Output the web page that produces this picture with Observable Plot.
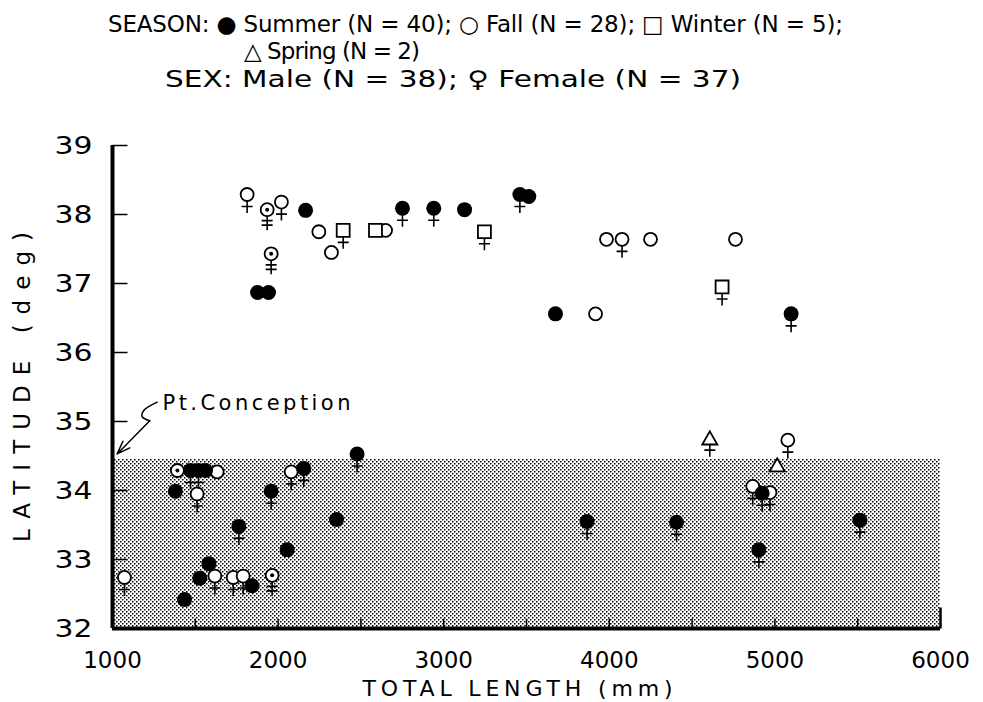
<!DOCTYPE html>
<html><head><meta charset="utf-8">
<script src="https://cdn.jsdelivr.net/npm/d3@7"></script>
<script src="https://cdn.jsdelivr.net/npm/@observablehq/plot@0.6"></script>
<style>
body{margin:0;background:#fff;}
#wrap{width:983px;}
#wrap svg{display:block;}
svg text{font-family:"DejaVu Sans",sans-serif;}
</style></head><body>
<svg width="0" height="0" style="position:absolute">
 <defs>
  <pattern id="stipple" width="4" height="4" patternUnits="userSpaceOnUse">
   <rect width="4" height="4" fill="#fff"/>
   <rect x="0" y="0" width="1.5" height="1.5" fill="#000"/>
   <rect x="2" y="2" width="1.5" height="1.5" fill="#000"/>
  </pattern>
 </defs>
</svg>
<div id="wrap"></div>
<script>
// ---------- data ----------
const seasons = ["Summer", "Fall", "Winter", "Spring"];
const seasonSymbols = ["●", "○", "□", "△"];
const seasonCounts = [40, 28, 5, 2];
const sexes = ["Male", "Female"];
const sexCounts = [38, 37];

const xTicks = [1000, 2000, 3000, 4000, 5000, 6000];
const xMinorTicks = [1500, 2000, 2500, 3000, 3500, 4000, 4500, 5000, 5500];
const yTicks = [32, 33, 34, 35, 36, 37, 38, 39];
const conceptionLat = 34.45;

const summerLength = [2166, 2751, 2940, 3126, 3460, 3514, 3675, 5098, 1876, 1942, 1471, 1519, 1562, 1380, 2155, 2477, 1958, 2353, 1763, 2055, 1582, 1527, 1843, 1435, 3866, 4406, 5513, 4923, 4903];
const summerLat =    [38.06, 38.09, 38.09, 38.07, 38.29, 38.26, 36.56, 36.56, 36.87, 36.87, 34.29, 34.29, 34.29, 33.99, 34.32, 34.53, 33.99, 33.58, 33.48, 33.14, 32.94, 32.73, 32.62, 32.42, 33.55, 33.54, 33.57, 33.96, 33.14];
const summerSex = "MFFMFMMFMMFFMMFFFMFMMMMMFFFFF";

const fallLength = [1813, 1934, 2020, 2246, 2322, 1958, 2649, 3983, 4077, 4249, 4762, 3917, 1392, 1632, 1511, 2079, 1618, 1729, 1789, 1964, 1072, 5078, 4866, 4970];
const fallLat =    [38.29, 38.07, 38.18, 37.75, 37.45, 37.43, 37.77, 37.64, 37.64, 37.64, 37.64, 36.56, 34.29, 34.27, 33.95, 34.27, 32.76, 32.74, 32.76, 32.77, 32.74, 34.73, 34.06, 33.97];
const fallSex = "FFFMMFMMFMMMMMFFFFFFFFFF";
const fallDotted = [0, 1, 0, 0, 0, 1, 0, 0, 0, 0, 0, 0, 1, 0, 0, 0, 0, 0, 0, 1, 0, 0, 0, 0];

const winterLength = [2393, 2588, 3246, 4681];
const winterLat = [37.77, 37.77, 37.75, 36.95];
const winterSex = "FMFF";

const springLength = [4607, 5014];
const springLat = [34.73, 34.34];
const springSex = "FM";

const ptLabel = "Pt.Conception";
const ptLabelPos = [1302, 35.17];
const squiggleLength = [1270, 1189, 1179, 1225];
const squiggleLat = [35.28, 35.16, 35.07, 35.01];
const arrowTip = [1028, 34.53];

// ---------- build tables ----------
function rows(len, lat, sex, season, dotted) {
  return len.map((x, i) => ({x, y: lat[i], sex: sex[i], season, dotted: dotted ? !!dotted[i] : false}));
}
const summer = rows(summerLength, summerLat, summerSex, "Summer");
const fall = rows(fallLength, fallLat, fallSex, "Fall", fallDotted);
const winter = rows(winterLength, winterLat, winterSex, "Winter");
const spring = rows(springLength, springLat, springSex, "Spring");
const all = [...fall, ...winter, ...spring, ...summer];

// ---------- symbols ----------
const venus = {draw(c, s){ const r = Math.sqrt(s/Math.PI); c.moveTo(0, r); c.lineTo(0, r+12); c.moveTo(-5.5, r+5.5); c.lineTo(5.5, r+5.5); }};
const venus2 = {draw(c, s){ const r = Math.sqrt(s/Math.PI); c.moveTo(0, r); c.lineTo(0, r+14); c.moveTo(-5.5, r+4.5); c.lineTo(5.5, r+4.5); c.moveTo(-5.5, r+9); c.lineTo(5.5, r+9); }};
const tickUp = {draw(c){ c.moveTo(0, 0); c.lineTo(0, -10); }};
const tickUpLong = {draw(c){ c.moveTo(0, 0); c.lineTo(0, -21); }};
const tickRight = {draw(c){ c.moveTo(0, 0); c.lineTo(15, 0); }};

const crossR = d => d.season === "Spring" ? 4.5 : 6.5;

// ---------- header ----------
const header = d3.create("svg").attr("width", 983).attr("height", 105);
const line1 = "SEASON: " + [0,1,2].map(i => `${seasonSymbols[i]} ${seasons[i]} (N = ${seasonCounts[i]});`).join(" ");
const line2 = `${seasonSymbols[3]} ${seasons[3]} (N = ${seasonCounts[3]})`;
const line3 = `SEX: ${sexes[0]} (N = ${sexCounts[0]}); ♀ ${sexes[1]} (N = ${sexCounts[1]})`;
[[line1, 108, 32, 735, "spacing"], [line2, 244, 59, 176, "spacing"], [line3, 165, 87, 576, "spacingAndGlyphs"]].forEach(([t, x, y, len, adj]) => {
  header.append("text").attr("x", x).attr("y", y).attr("font-size", 23)
    .attr("textLength", len).attr("lengthAdjust", adj).attr("fill", "#000").text(t);
});
document.getElementById("wrap").appendChild(header.node());

// ---------- plot ----------
const plot = Plot.plot({
  width: 983, height: 597,
  marginLeft: 112, marginRight: 43, marginTop: 40, marginBottom: 74,
  style: {fontFamily: "DejaVu Sans", background: "white", color: "black"},
  x: {domain: [1000, 6000], axis: null},
  y: {domain: [32, 39], axis: null},
  marks: [
    Plot.rect([conceptionLat], {x1: xTicks[0], x2: xTicks[xTicks.length-1], y1: yTicks[0], y2: d => d, fill: "url(#stipple)"}),
    // ticks
    Plot.dot(xMinorTicks, {x: d => d, y: yTicks[0], symbol: tickUp, fill: "none", stroke: "black", strokeWidth: 1.5}),
    Plot.dot([xTicks[xTicks.length-1]], {x: d => d, y: yTicks[0], symbol: tickUpLong, fill: "none", stroke: "black", strokeWidth: 2.5}),
    Plot.dot(yTicks.slice(1), {x: xTicks[0], y: d => d, symbol: tickRight, fill: "none", stroke: "black", strokeWidth: 1.5}),
    // axis lines
    Plot.ruleY([yTicks[0]], {x1: xTicks[0], x2: xTicks[xTicks.length-1], stroke: "black", strokeWidth: 4}),
    Plot.ruleX([xTicks[0]], {y1: yTicks[0], y2: yTicks[yTicks.length-1], stroke: "black", strokeWidth: 4}),
    // tick labels
    Plot.text(xTicks, {x: d => d, y: yTicks[0], dy: 32, text: d => String(d), fontSize: 23, fill: "black"}),
    Plot.text(yTicks, {x: xTicks[0], y: d => d, dx: -20, text: d => String(d), textAnchor: "end", fontSize: 25, fill: "black"}),
    // axis labels
    Plot.text(["TOTAL LENGTH (mm)"], {frameAnchor: "bottom", dx: -9, dy: 67, fontSize: 22, fill: "black"}),
    Plot.text(["LATITUDE (deg)"], {frameAnchor: "left", dx: -90, rotate: -90, textAnchor: "middle", fontSize: 23, fill: "black"}),
    // Pt. Conception annotation
    Plot.text([ptLabel], {x: ptLabelPos[0], y: ptLabelPos[1], text: d => d, textAnchor: "start", lineAnchor: "bottom", fontSize: 21, fill: "black"}),
    Plot.line(squiggleLength.map((x, i) => [x, squiggleLat[i]]), {curve: "catmull-rom", stroke: "black", strokeWidth: 1.5}),
    Plot.arrow([0], {x1: squiggleLength[squiggleLength.length-1], y1: squiggleLat[squiggleLat.length-1], x2: arrowTip[0], y2: arrowTip[1], stroke: "black", strokeWidth: 1.5, headLength: 14, headAngle: 40}),
    // data symbols
    Plot.dot(all.filter(d => d.season === "Fall"), {x: "x", y: "y", r: 6.5, fill: "white", stroke: "black", strokeWidth: 1.8}),
    Plot.dot(all.filter(d => d.dotted), {x: "x", y: "y", r: 2, fill: "black"}),
    Plot.dot(all.filter(d => d.season === "Winter"), {x: "x", y: "y", r: 7.3, symbol: "square", fill: "white", stroke: "black", strokeWidth: 1.8}),
    Plot.dot(all.filter(d => d.season === "Spring"), {x: "x", y: "y", r: 5.6, symbol: "triangle", fill: "white", stroke: "black", strokeWidth: 1.8}),
    Plot.dot(all.filter(d => d.season === "Summer"), {x: "x", y: "y", r: 7.5, fill: "black", stroke: "none"}),
    // female marks
    Plot.dot(all.filter(d => d.sex === "F" && !d.dotted), {x: "x", y: "y", r: crossR, symbol: venus, fill: "none", stroke: "black", strokeWidth: 1.6}),
    Plot.dot(all.filter(d => d.sex === "F" && d.dotted), {x: "x", y: "y", r: crossR, symbol: venus2, fill: "none", stroke: "black", strokeWidth: 1.6})
  ],
  r: {type: "identity"}
});
document.getElementById("wrap").appendChild(plot);

// letter spacing of texts
d3.select(plot).selectAll("text").each(function() {
  const t = this.textContent;
  const s = d3.select(this);
  if (t === "TOTAL LENGTH (mm)") s.attr("textLength", 310).attr("lengthAdjust", "spacing");
  if (t === "LATITUDE (deg)") s.attr("textLength", 310).attr("lengthAdjust", "spacing");
  if (t === ptLabel) s.attr("textLength", 188).attr("lengthAdjust", "spacing");
  if (yTicks.map(String).includes(t) && s.attr("text-anchor") !== "middle") s.attr("textLength", 38).attr("lengthAdjust", "spacingAndGlyphs");
});
</script>
</body></html>
